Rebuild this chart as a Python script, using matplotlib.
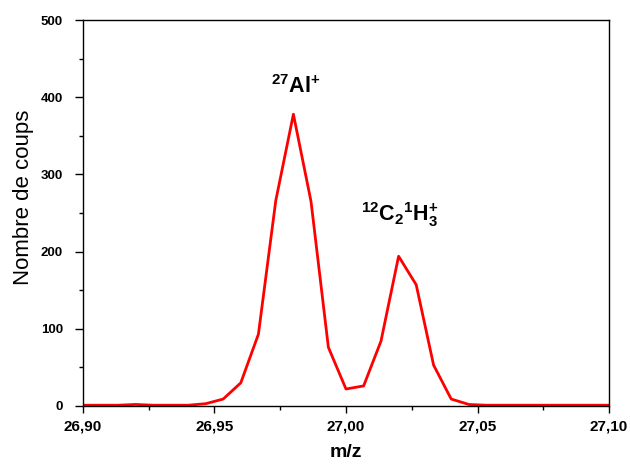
import matplotlib
matplotlib.use("Agg")
import matplotlib.pyplot as plt
from matplotlib.ticker import MultipleLocator, FuncFormatter

# spectre de masse autour de m/z = 27
mz = [26.9000, 26.9067, 26.9133, 26.9200, 26.9267, 26.9333, 26.9400, 26.9467,
      26.9533, 26.9600, 26.9667, 26.9733, 26.9800, 26.9867, 26.9933, 27.0000,
      27.0067, 27.0133, 27.0200, 27.0267, 27.0333, 27.0400, 27.0467, 27.0533,
      27.0600, 27.0667, 27.0733, 27.0800, 27.0867, 27.0933, 27.1000]
coups = [1, 1, 1, 2, 1, 1, 1, 3,
         9, 30, 93, 266, 378, 265, 76, 22,
         26, 84, 194, 157, 53, 9, 2, 1,
         1, 1, 1, 1, 1, 1, 1]

# etiquettes des pics
labels = [r'$\mathbf{^{27}Al^{+}}$', r'$\mathbf{^{12}C_{2}{}^{1}H_{3}^{+}}$']
label_x = [26.9808, 27.0205]
label_y = [414, 248]

plt.rcParams['font.family'] = ['Liberation Sans', 'DejaVu Sans']
plt.rcParams['mathtext.fontset'] = 'custom'
plt.rcParams['mathtext.rm'] = 'Liberation Sans'
plt.rcParams['mathtext.bf'] = 'Liberation Sans:bold'
plt.rcParams['mathtext.it'] = 'Liberation Sans:italic'

fig = plt.figure(figsize=(6.3, 4.65), dpi=100)
ax = fig.add_axes([0.1317, 0.1269, 0.835, 0.830])

ax.plot(mz, coups, color='#ff0000', lw=2.0)

for t, x, y in zip(labels, label_x, label_y):
    ax.text(x, y, t, ha='center', va='center', fontsize=15.5)

ax.set_xlim(26.90, 27.10)
ax.set_ylim(0, 500)
ax.xaxis.set_major_locator(MultipleLocator(0.05))
ax.xaxis.set_minor_locator(MultipleLocator(0.025))
ax.yaxis.set_major_locator(MultipleLocator(100))
ax.yaxis.set_minor_locator(MultipleLocator(50))
ax.xaxis.set_major_formatter(FuncFormatter(lambda v, p: ('%.2f' % v).replace('.', ',')))
ax.yaxis.set_major_formatter(FuncFormatter(lambda v, p: '%d' % v))

ax.tick_params(which='both', direction='out', top=False, right=False, width=1.0)
ax.tick_params(axis='x', which='major', length=5, labelsize=11, pad=5)
ax.tick_params(axis='x', which='minor', length=3)
ax.tick_params(axis='y', which='major', length=5.5, labelsize=9.5, pad=9)
ax.tick_params(axis='y', which='minor', length=3)
for lab in ax.get_xticklabels() + ax.get_yticklabels():
    lab.set_fontweight('bold')
for s in ax.spines.values():
    s.set_linewidth(1.0)

ax.set_xlabel('m/z', fontsize=14, fontweight='bold')
ax.xaxis.set_label_coords(0.5, -0.098)
ax.set_ylabel('Nombre de coups', fontsize=16)
ax.yaxis.set_label_coords(-0.093, 0.54)

fig.savefig('out.png', dpi=100)
